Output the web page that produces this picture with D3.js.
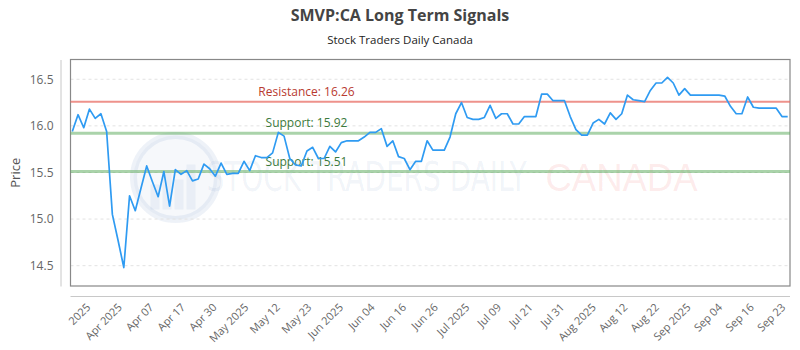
<!DOCTYPE html>
<html>
<head>
<meta charset="utf-8">
<script src="https://cdnjs.cloudflare.com/ajax/libs/d3/7.8.5/d3.min.js"></script>
<style>
  body { margin: 0; background: #fff; }
  #chart { width: 800px; height: 350px; }
  text { font-family: "Open Sans", sans-serif; }
</style>
</head>
<body>
<div id="chart"></div>
<script>
// daily closing prices (one per trading day)
const prices = [
  15.94, 16.12, 15.98, 16.18, 16.08, 16.13, 15.94, 15.05, 14.77, 14.48,
  15.25, 15.09, 15.33, 15.57, 15.40, 15.24, 15.51, 15.14, 15.53, 15.48,
  15.52, 15.41, 15.43, 15.59, 15.54, 15.46, 15.60, 15.48, 15.49, 15.49,
  15.62, 15.52, 15.68, 15.66, 15.66, 15.71, 15.93, 15.89, 15.65, 15.58,
  15.57, 15.73, 15.77, 15.65, 15.65, 15.78, 15.72, 15.82, 15.84, 15.84,
  15.84, 15.88, 15.93, 15.93, 15.97, 15.78, 15.84, 15.67, 15.65, 15.53,
  15.62, 15.62, 15.84, 15.74, 15.74, 15.74, 15.88, 16.13, 16.25, 16.09,
  16.07, 16.07, 16.09, 16.22, 16.08, 16.13, 16.13, 16.02, 16.02, 16.10,
  16.10, 16.10, 16.34, 16.34, 16.27, 16.27, 16.27, 16.10, 15.96, 15.90,
  15.90, 16.03, 16.07, 16.02, 16.14, 16.07, 16.13, 16.33, 16.28, 16.27,
  16.26, 16.38, 16.46, 16.46, 16.52, 16.46, 16.33, 16.40, 16.33, 16.33,
  16.33, 16.33, 16.33, 16.33, 16.32, 16.21, 16.13, 16.13, 16.31, 16.20,
  16.19, 16.19, 16.19, 16.19, 16.10, 16.10
];

const xTickLabels = [
  "2025", "Apr 2025", "Apr 07", "Apr 17", "Apr 30", "May 2025", "May 12",
  "May 23", "Jun 2025", "Jun 04", "Jun 16", "Jun 26", "Jul 2025", "Jul 09",
  "Jul 21", "Jul 31", "Aug 2025", "Aug 12", "Aug 22", "Sep 2025", "Sep 04",
  "Sep 16", "Sep 23"
];

const yTicks = [14.5, 15.0, 15.5, 16.0, 16.5];

const signals = [
  { label: "Resistance", value: 16.26, kind: "res" },
  { label: "Support", value: 15.92, kind: "sup" },
  { label: "Support", value: 15.51, kind: "sup" }
];

class signalChart {
  constructor(parentElement, data) {
    this.parentElement = parentElement;
    this.data = data;
    this.initViz();
  }

  initViz() {
    let viz = this;

    viz.margin = { top: 59.5, right: 10, bottom: 64, left: 70.5 };
    viz.width = 800 - viz.margin.left - viz.margin.right;
    viz.height = 350 - viz.margin.top - viz.margin.bottom;

    viz.root = d3
      .select("#" + viz.parentElement)
      .append("svg")
      .attr("width", 800)
      .attr("height", 350);

    // title + subtitle
    viz.root
      .append("text")
      .attr("x", 400)
      .attr("y", 21)
      .attr("text-anchor", "middle")
      .style("font-size", "16px")
      .style("font-weight", "bold")
      .style("fill", "#444")
      .text("SMVP:CA Long Term Signals");

    viz.root
      .append("text")
      .attr("x", 400)
      .attr("y", 44)
      .attr("text-anchor", "middle")
      .style("font-size", "11.5px")
      .style("fill", "#222")
      .text("Stock Traders Daily Canada");

    viz.svg = viz.root
      .append("g")
      .attr("transform", `translate(${viz.margin.left},${viz.margin.top})`);

    viz.x = d3
      .scaleLinear()
      .domain([0, viz.data.length - 1])
      .range([1.8, viz.width - 2.3]);

    viz.y = d3.scaleLinear().domain([14.282, 16.712]).range([viz.height, 0]);

    // tick labels are spread evenly along the axis
    viz.xLab = d3
      .scalePoint()
      .domain(xTickLabels)
      .range([viz.x(2.85), viz.x(124.3)]);

    // watermark
    let wm = viz.svg.append("g").attr("class", "watermark");
    wm.append("circle")
      .attr("cx", 105)
      .attr("cy", 118)
      .attr("r", 42)
      .attr("fill", "rgba(70,110,180,0.05)")
      .attr("stroke", "rgba(70,110,180,0.09)")
      .attr("stroke-width", 7);
    [[80, 25], [92, 38], [104, 30], [116, 45]].forEach(([bx, bh]) => {
      wm.append("rect")
        .attr("x", bx)
        .attr("y", 150 - bh)
        .attr("width", 9)
        .attr("height", bh)
        .attr("fill", "rgba(70,110,180,0.07)");
    });
    wm.append("text")
      .attr("x", 136)
      .attr("y", 131)
      .attr("textLength", 320)
      .attr("lengthAdjust", "spacingAndGlyphs")
      .style("font-family", "'DejaVu Sans Condensed', 'DejaVu Sans', sans-serif")
      .style("font-size", "40px")
      .style("fill", "rgba(60,100,170,0.08)")
      .text("STOCK TRADERS DAILY");
    wm.append("text")
      .attr("x", 475)
      .attr("y", 131)
      .attr("textLength", 152)
      .attr("lengthAdjust", "spacingAndGlyphs")
      .style("font-family", "'Liberation Sans', Arial, sans-serif")
      .style("font-size", "38px")
      .style("fill", "rgba(235,60,60,0.1)")
      .text("CANADA");

    // dashed grid
    viz.svg
      .append("g")
      .attr("class", "grid")
      .selectAll("line")
      .data(yTicks)
      .enter()
      .append("line")
      .attr("x1", 0)
      .attr("x2", viz.width)
      .attr("y1", (d) => viz.y(d))
      .attr("y2", (d) => viz.y(d))
      .attr("stroke", "#e2e2e2")
      .attr("stroke-dasharray", "3,3");

    // y axis (offset to the left of the frame)
    let yAxis = viz.svg
      .append("g")
      .attr("class", "y-axis")
      .attr("transform", "translate(-10,0)")
      .call(
        d3.axisLeft(viz.y).tickValues(yTicks).tickFormat(d3.format(".1f")).tickSize(0).tickPadding(7)
      );
    yAxis.select(".domain").attr("stroke", "#c8c8c8");
    yAxis.selectAll("text").style("font-size", "12px").style("fill", "#666");

    viz.root
      .append("text")
      .attr("transform", `translate(20,${viz.margin.top + viz.height / 2}) rotate(-90)`)
      .attr("text-anchor", "middle")
      .style("font-size", "13px")
      .style("fill", "#555")
      .text("Price");

    // x axis (offset below the frame)
    let xAxis = viz.svg
      .append("g")
      .attr("class", "x-axis")
      .attr("transform", `translate(0,${viz.height + 10})`)
      .call(d3.axisBottom(viz.xLab).tickSize(0).tickPadding(0));
    xAxis
      .select(".domain")
      .attr("stroke", "#c8c8c8")
      .attr("d", `M0,0.5H${viz.width}`);
    xAxis
      .selectAll("text")
      .attr("y", 0)
      .attr("dy", 0)
      .attr("transform", "translate(2,12) rotate(-45)")
      .style("text-anchor", "end")
      .style("font-size", "11px")
      .style("fill", "#666");

    // frame
    viz.svg
      .append("rect")
      .attr("width", viz.width)
      .attr("height", viz.height)
      .attr("fill", "none")
      .attr("stroke", "#888")
      .attr("stroke-width", 1.2);

    // signal levels
    viz.svg
      .selectAll(".signal")
      .data(signals)
      .enter()
      .append("line")
      .attr("class", "signal")
      .attr("x1", 0)
      .attr("x2", viz.width)
      .attr("y1", (d) => viz.y(d.value))
      .attr("y2", (d) => viz.y(d.value))
      .attr("stroke", (d) => (d.kind === "res" ? "rgba(232,110,100,0.75)" : "rgba(100,175,100,0.55)"))
      .attr("stroke-width", (d) => (d.kind === "res" ? 2 : 3));

    viz.svg
      .selectAll(".signal-label")
      .data(signals)
      .enter()
      .append("text")
      .attr("class", "signal-label")
      .attr("x", 236)
      .attr("y", (d) => viz.y(d.value) - 6)
      .attr("text-anchor", "middle")
      .style("font-size", "12px")
      .style("fill", (d) => (d.kind === "res" ? "#b83a30" : "#3c7a3c"))
      .text((d) => `${d.label}: ${d.value.toFixed(2)}`);

    viz.updateViz();
  }

  updateViz() {
    let viz = this;

    let line = d3
      .line()
      .x((d, i) => viz.x(i))
      .y((d) => viz.y(d));

    viz.svg
      .append("path")
      .datum(viz.data)
      .attr("class", "price-line")
      .attr("fill", "none")
      .attr("stroke", "#2f9bf2")
      .attr("stroke-width", 1.7)
      .attr("stroke-linejoin", "round")
      .attr("d", line);
  }
}

new signalChart("chart", prices);
</script>
</body>
</html>
